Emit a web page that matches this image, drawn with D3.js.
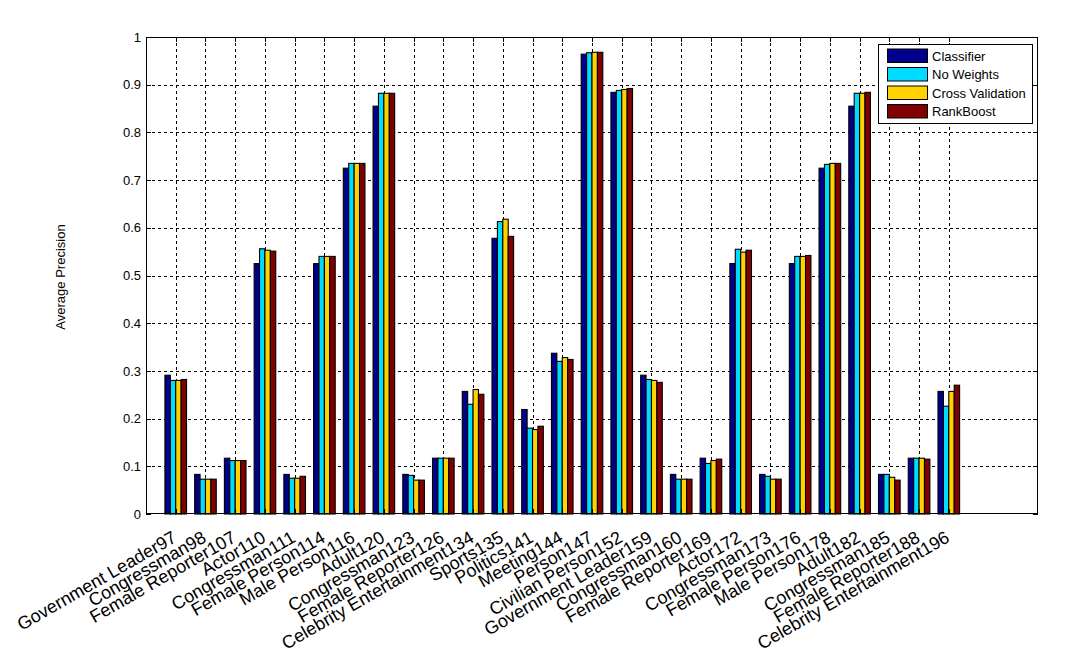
<!DOCTYPE html>
<html>
<head>
<meta charset="utf-8">
<script src="https://cdn.jsdelivr.net/npm/d3@7"></script>
<style>
  html, body { margin: 0; padding: 0; background: #ffffff; }
  svg { display: block; font-family: "Liberation Sans", Arial, Helvetica, sans-serif; }
</style>
</head>
<body>
<svg id="chart" width="1091" height="664"></svg>
<script>
const categories = [
  "Government Leader97", "Congressman98", "Female Reporter107", "Actor110",
  "Congressman111", "Female Person114", "Male Person116", "Adult120",
  "Congressman123", "Female Reporter126", "Celebrity Entertainment134", "Sports135",
  "Politics141", "Meeting144", "Person147", "Civilian Person152",
  "Government Leader159", "Congressman160", "Female Reporter169", "Actor172",
  "Congressman173", "Female Person176", "Male Person178", "Adult182",
  "Congressman185", "Female Reporter188", "Celebrity Entertainment196"
];
const classifier = [0.291, 0.083, 0.117, 0.525, 0.083, 0.525, 0.725, 0.855, 0.083, 0.117, 0.257, 0.578, 0.219, 0.337, 0.964, 0.884, 0.291, 0.083, 0.117, 0.525, 0.083, 0.525, 0.725, 0.855, 0.083, 0.117, 0.257];
const noWeights = [0.280, 0.073, 0.112, 0.556, 0.075, 0.540, 0.735, 0.882, 0.081, 0.117, 0.230, 0.613, 0.180, 0.320, 0.967, 0.888, 0.282, 0.073, 0.106, 0.555, 0.079, 0.540, 0.733, 0.882, 0.083, 0.117, 0.226];
const crossValidation = [0.280, 0.073, 0.112, 0.553, 0.075, 0.540, 0.735, 0.882, 0.071, 0.117, 0.261, 0.618, 0.177, 0.328, 0.968, 0.890, 0.280, 0.073, 0.112, 0.549, 0.073, 0.540, 0.735, 0.882, 0.077, 0.117, 0.257];
const rankBoost = [0.282, 0.073, 0.112, 0.551, 0.079, 0.540, 0.735, 0.882, 0.071, 0.117, 0.251, 0.582, 0.184, 0.324, 0.968, 0.892, 0.276, 0.073, 0.115, 0.553, 0.073, 0.542, 0.735, 0.884, 0.071, 0.115, 0.270];
const seriesNames = ["Classifier", "No Weights", "Cross Validation", "RankBoost"];
const seriesColors = ["#00008c", "#00dcff", "#ffd200", "#800000"];
const yTicks = [0, 0.1, 0.2, 0.3, 0.4, 0.5, 0.6, 0.7, 0.8, 0.9, 1];
const yTickLabels = ["0", "0.1", "0.2", "0.3", "0.4", "0.5", "0.6", "0.7", "0.8", "0.9", "1"];
const yLabel = "Average Precision";

const series = [classifier, noWeights, crossValidation, rankBoost];

const svg = d3.select("#chart");
const L = 146, R = 1038, T = 37, B = 514;
const x = d3.scaleLinear().domain([0, 30]).range([L, R]);
const y = d3.scaleLinear().domain([0, 1]).range([B, T]);
const positions = categories.map((c, i) => i + 1);

// grid
const grid = svg.append("g").attr("stroke", "#000").attr("stroke-width", 1).attr("stroke-dasharray", "3,3").attr("shape-rendering", "crispEdges");
grid.selectAll("line.gy").data(yTicks.slice(1, -1)).join("line")
  .attr("x1", L).attr("x2", R).attr("y1", d => Math.round(y(d)) + 0.5).attr("y2", d => Math.round(y(d)) + 0.5);
grid.selectAll("line.gx").data(positions).join("line")
  .attr("y1", T).attr("y2", B).attr("x1", d => Math.round(x(d)) + 0.5).attr("x2", d => Math.round(x(d)) + 0.5);

// bars
const groupWidth = 0.727;
const barW = groupWidth / 4;
series.forEach((vals, s) => {
  svg.append("g").selectAll("rect").data(vals).join("rect")
    .attr("x", (d, i) => x(positions[i] - groupWidth / 2 + s * barW))
    .attr("width", x(barW) - x(0))
    .attr("y", d => y(d))
    .attr("height", d => y(0) - y(d))
    .attr("fill", seriesColors[s])
    .attr("stroke", "#000")
    .attr("stroke-width", 1.1);
});

// axes box
svg.append("rect").attr("x", L + 0.5).attr("y", T + 0.5).attr("width", R - L - 1).attr("height", B - T - 1)
  .attr("fill", "none").attr("stroke", "#000").attr("stroke-width", 1).attr("shape-rendering", "crispEdges");

// ticks
const tk = svg.append("g").attr("stroke", "#000").attr("stroke-width", 1).attr("shape-rendering", "crispEdges");
yTicks.forEach(t => {
  const yy = Math.round(y(t)) + 0.5;
  tk.append("line").attr("x1", L).attr("x2", L + 5).attr("y1", yy).attr("y2", yy);
  tk.append("line").attr("x1", R - 5).attr("x2", R).attr("y1", yy).attr("y2", yy);
});
positions.forEach(p => {
  const xx = Math.round(x(p)) + 0.5;
  tk.append("line").attr("x1", xx).attr("x2", xx).attr("y1", B).attr("y2", B - 5);
  tk.append("line").attr("x1", xx).attr("x2", xx).attr("y1", T).attr("y2", T + 5);
});

// y tick labels
svg.append("g").selectAll("text").data(yTicks).join("text")
  .attr("x", L - 5).attr("y", d => y(d)).attr("dy", "0.36em")
  .attr("text-anchor", "end").attr("font-size", 13).attr("fill", "#000")
  .text((d, i) => yTickLabels[i]);

// x tick labels
svg.append("g").selectAll("text").data(categories).join("text")
  .attr("transform", (d, i) => `translate(${x(positions[i]) + 2},${541}) rotate(-30)`)
  .attr("text-anchor", "end").attr("font-size", 18).attr("fill", "#000")
  .text(d => d);

// y label
svg.append("text").attr("transform", `translate(${65},${277}) rotate(-90)`)
  .attr("text-anchor", "middle").attr("font-size", 13).attr("fill", "#000").text(yLabel);

// legend
const lg = svg.append("g");
lg.append("rect").attr("x", 878.5).attr("y", 44.5).attr("width", 154).attr("height", 79)
  .attr("fill", "#fff").attr("stroke", "#000").attr("stroke-width", 1);
seriesNames.forEach((n, i) => {
  const yy = 49 + i * 18.5;
  lg.append("rect").attr("x", 887.5).attr("y", yy).attr("width", 40).attr("height", 13.5)
    .attr("fill", seriesColors[i]).attr("stroke", "#000").attr("stroke-width", 1);
  lg.append("text").attr("x", 932).attr("y", yy + 7).attr("dy", "0.36em")
    .attr("font-size", 13).attr("fill", "#000").text(n);
});
</script>
</body>
</html>
